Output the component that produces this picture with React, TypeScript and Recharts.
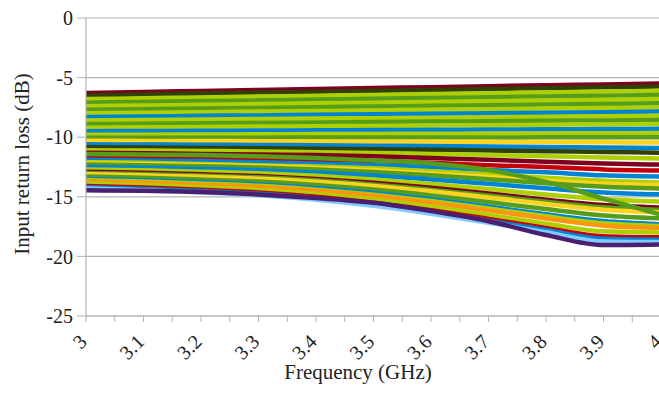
import React from "react";
import { LineChart, Line, XAxis, YAxis, CartesianGrid, Label } from "recharts";

const FREQS = [3.0, 3.1, 3.2, 3.3, 3.4, 3.5, 3.6, 3.7, 3.8, 3.9, 4.0];

const X_TICKS = [3, 3.05, 3.1, 3.15, 3.2, 3.25, 3.3, 3.35, 3.4, 3.45, 3.5, 3.55, 3.6, 3.65, 3.7, 3.75, 3.8, 3.85, 3.9, 3.95, 4];
const X_TICK_LABELS = ["3", "", "3.1", "", "3.2", "", "3.3", "", "3.4", "", "3.5", "", "3.6", "", "3.7", "", "3.8", "", "3.9", "", "4"];
const Y_TICKS = [-25, -20, -15, -10, -5, 0];

// upper family (nearly flat, slight rise)
const U1 = [-6.3, -6.2, -6.12, -6.04, -5.96, -5.88, -5.8, -5.72, -5.64, -5.57, -5.5];
const U2 = [-6.5, -6.42, -6.34, -6.26, -6.19, -6.11, -6.04, -5.96, -5.89, -5.82, -5.75];
const U3 = [-6.8, -6.73, -6.66, -6.59, -6.52, -6.45, -6.38, -6.31, -6.24, -6.17, -6.1];
const U4 = [-7.1, -7.04, -6.97, -6.91, -6.84, -6.78, -6.71, -6.65, -6.58, -6.52, -6.45];
const U5 = [-7.4, -7.34, -7.28, -7.22, -7.16, -7.1, -7.04, -6.98, -6.92, -6.86, -6.8];
const U6 = [-7.7, -7.65, -7.59, -7.54, -7.48, -7.43, -7.37, -7.32, -7.26, -7.21, -7.15];
const U7 = [-8.0, -7.95, -7.9, -7.85, -7.8, -7.75, -7.7, -7.65, -7.6, -7.55, -7.5];
const U8 = [-8.3, -8.26, -8.21, -8.17, -8.12, -8.08, -8.03, -7.99, -7.94, -7.9, -7.85];
const U9 = [-8.6, -8.56, -8.52, -8.48, -8.44, -8.4, -8.36, -8.32, -8.28, -8.24, -8.2];
const U10 = [-8.9, -8.87, -8.83, -8.8, -8.76, -8.73, -8.69, -8.66, -8.62, -8.59, -8.55];
const U11 = [-9.2, -9.17, -9.14, -9.11, -9.08, -9.05, -9.02, -8.99, -8.96, -8.93, -8.9];
const U12 = [-9.5, -9.48, -9.46, -9.44, -9.42, -9.4, -9.38, -9.36, -9.34, -9.32, -9.3];
const U13 = [-9.8, -9.79, -9.77, -9.76, -9.74, -9.73, -9.71, -9.7, -9.68, -9.67, -9.65];
const U14 = [-10.05, -10.05, -10.04, -10.04, -10.03, -10.03, -10.02, -10.02, -10.01, -10.01, -10.0];
const U15 = [-10.3, -10.31, -10.32, -10.33, -10.35, -10.36, -10.37, -10.39, -10.41, -10.43, -10.45];
const U16 = [-10.6, -10.61, -10.63, -10.65, -10.68, -10.71, -10.74, -10.78, -10.82, -10.86, -10.9];
const U17 = [-10.85, -10.87, -10.9, -10.93, -10.97, -11.01, -11.06, -11.12, -11.18, -11.24, -11.3];
const U18 = [-11.1, -11.12, -11.15, -11.2, -11.26, -11.33, -11.41, -11.5, -11.6, -11.7, -11.8];

// lower family (bending down towards 3.9 GHz)
const L1 = [-11.3, -11.35, -11.4, -11.45, -11.5, -11.6, -11.75, -11.9, -12.05, -12.2, -12.3];
const L2 = [-11.6, -11.65, -11.7, -11.8, -11.9, -12.0, -12.15, -12.35, -12.5, -12.7, -12.8];
const L3 = [-11.9, -11.95, -12.0, -12.1, -12.2, -12.35, -12.5, -12.75, -12.95, -13.2, -13.3];
const L4 = [-12.1, -12.15, -12.25, -12.35, -12.45, -12.6, -12.85, -13.1, -13.4, -13.65, -13.8];
const M1 = [-12.2, -12.26, -12.34, -12.44, -12.58, -12.78, -13.04, -13.34, -13.66, -13.9, -14.0];
const L5 = [-12.3, -12.36, -12.44, -12.54, -12.7, -12.92, -13.2, -13.52, -13.86, -14.16, -14.3];
const L6 = [-12.5, -12.57, -12.66, -12.78, -12.96, -13.21, -13.54, -13.9, -14.29, -14.64, -14.8];
const L7 = [-12.7, -12.78, -12.89, -13.02, -13.24, -13.54, -13.92, -14.35, -14.81, -15.21, -15.4];
const L8 = [-12.9, -12.99, -13.11, -13.26, -13.5, -13.83, -14.25, -14.73, -15.24, -15.69, -15.9];
const M2 = [-13.0, -13.09, -13.22, -13.37, -13.62, -13.96, -14.4, -14.89, -15.42, -15.88, -16.1];
const L9 = [-13.1, -13.2, -13.32, -13.48, -13.74, -14.09, -14.54, -15.05, -15.6, -16.08, -16.3];
const L10 = [-13.3, -13.41, -13.55, -13.72, -14.0, -14.39, -14.88, -15.44, -16.03, -16.56, -16.8];
const L11 = [-13.5, -13.61, -13.77, -13.96, -14.26, -14.68, -15.21, -15.82, -16.46, -17.03, -17.3];
const M3 = [-13.6, -13.72, -13.88, -14.08, -14.4, -14.82, -15.36, -15.98, -16.64, -17.22, -17.45];
const L12 = [-13.7, -13.82, -13.98, -14.18, -14.5, -14.94, -15.5, -16.14, -16.82, -17.42, -17.6];
const L13 = [-13.9, -14.03, -14.2, -14.42, -14.76, -15.23, -15.84, -16.52, -17.25, -17.9, -18.0];
const L14 = [-14.1, -14.23, -14.41, -14.64, -15.0, -15.5, -16.12, -16.85, -17.61, -18.3, -18.4];
const M4 = [-14.2, -14.34, -14.52, -14.75, -15.12, -15.63, -16.27, -17.01, -17.79, -18.52, -18.6];
const L15 = [-14.3, -14.44, -14.63, -14.86, -15.24, -15.76, -16.42, -17.17, -17.97, -18.75, -18.8];
const L16 = [-14.45, -14.5, -14.6, -14.8, -15.1, -15.5, -16.2, -17.05, -18.2, -19.05, -19.0];
// late-dropping crossing curve
const X1 = [-11.4, -11.45, -11.5, -11.6, -11.75, -11.95, -12.2, -12.75, -13.75, -15.15, -16.5];

const SERIES = [U1, U2, U3, U4, U5, U6, U7, U8, U9, U10, U11, U12, U13, U14, U15, U16, U17, U18,
  L1, L2, L3, L4, M1, L5, L6, L7, L8, M2, L9, L10, L11, M3, L12, L13, L14, M4, L15, L16, X1];

const C = {
  maroon: "#7e0021", dkgreen: "#314004", lime: "#aecf00", green: "#579d1c", blue: "#0084d1",
  yellow: "#ffd320", red: "#c5000b", orange: "#ff950e", purple: "#4b1f6f", lightblue: "#83caff",
};
const SERIES_COLORS = [
  C.maroon, C.dkgreen, C.lime, C.green, C.lime, C.green, C.lime, C.blue, C.lime, C.green, C.lime, C.blue,
  C.lime, C.green, C.yellow, C.blue, C.dkgreen, C.lime,
  C.maroon, C.red, C.blue, C.lime, C.yellow, C.green, C.blue, C.lime, C.maroon, C.green, C.yellow, C.green, C.blue,
  C.lime, C.orange, C.lime, C.red, C.blue, C.lightblue, C.purple, C.green,
];

const data = FREQS.map((f, i) => {
  const row: Record<string, number> = { f };
  SERIES.forEach((s, k) => { row["s" + k] = s[i]; });
  return row;
});

const FONT = "'Liberation Serif', 'Times New Roman', serif";
const GRID = "#b3b3b3";

const XTick = (props: any) => {
  const { x, y, index } = props;
  const label = X_TICK_LABELS[index];
  if (!label) return null;
  return (
    <g transform={`translate(${x + 2},${y + 19})`}>
      <text textAnchor="end" transform="rotate(-45)" fontFamily={FONT} fontSize={20} fill="#222">{label}</text>
    </g>
  );
};

export default function App() {
  return (
    <div style={{ position: "absolute", left: 0, top: 0, width: 659, height: 394, overflow: "hidden", background: "#fff" }}>
      <LineChart width={680} height={394} data={data} margin={{ top: 18, right: 19, bottom: 0, left: 0 }}>
        <CartesianGrid horizontal vertical={false} stroke={GRID} strokeWidth={1.2} />
        <XAxis
          dataKey="f"
          type="number"
          domain={[3, 4]}
          ticks={X_TICKS}
          interval={0}
          height={78}
          tickSize={6}
          stroke={GRID}
          tickLine={{ stroke: GRID }}
          axisLine={{ stroke: GRID, strokeWidth: 1.2 }}
          tick={<XTick />}
        >
          <Label
            content={() => (
              <text x={358} y={379} textAnchor="middle" fontFamily={FONT} fontSize={21} fill="#222">Frequency (GHz)</text>
            )}
          />
        </XAxis>
        <YAxis
          type="number"
          domain={[-25, 0]}
          ticks={Y_TICKS}
          width={86}
          tickSize={9}
          tickMargin={4}
          stroke={GRID}
          axisLine={{ stroke: GRID, strokeWidth: 1.2 }}
          tickLine={{ stroke: GRID }}
          tick={{ fontFamily: FONT, fontSize: 20, fill: "#222" }}
        >
          <Label
            content={() => (
              <text x={22} y={164} transform="rotate(-90 22 164)" textAnchor="middle" dominantBaseline="central" fontFamily={FONT} fontSize={21} fill="#222">Input return loss (dB)</text>
            )}
          />
        </YAxis>
        {SERIES.map((_, k) => (
          <Line
            key={k}
            type="monotone"
            dataKey={"s" + k}
            stroke={SERIES_COLORS[k]}
            strokeWidth={4.5}
            dot={false}
            activeDot={false}
            isAnimationActive={false}
          />
        ))}
      </LineChart>
    </div>
  );
}
